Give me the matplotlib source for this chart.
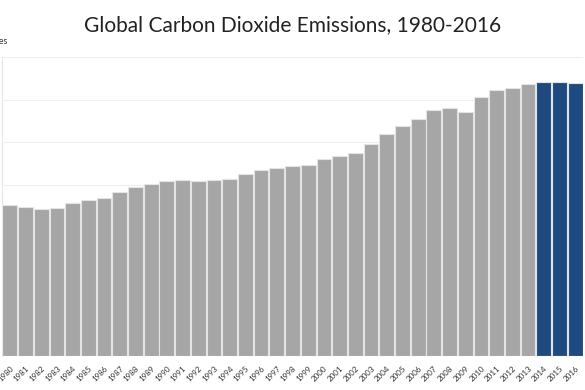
import matplotlib
matplotlib.use("Agg")
import matplotlib.pyplot as plt
import numpy as np

years = list(range(1980, 2017))
emissions = [17700, 17430, 17230, 17350, 17930, 18210, 18520, 19150, 19800, 20150,
             20430, 20550, 20500, 20620, 20740, 21290, 21750, 22020, 22190, 22340,
             23080, 23390, 23780, 24830, 25970, 26940, 27750, 28850, 29010, 28620,
             30260, 31150, 31350, 31890, 32130, 32050, 32010]
highlight_years = [2014, 2015, 2016]
title = "Global Carbon Dioxide Emissions, 1980-2016"
ylabel = "Million tonnes"
yticks = list(range(0, 35001, 5000))

gray = "#a6a6a6"
blue = "#1f4a80"
colors = [blue if y in highlight_years else gray for y in years]

fig = plt.figure(figsize=(5.85, 3.9), dpi=100)
ax = fig.add_axes([2/585, 1 - 356/390, 581/585, (356 - 57)/390])

x = np.arange(len(years))
ax.bar(x, emissions, width=0.94, color=colors, edgecolor="#e4e4e4", linewidth=0.8, zorder=2)
ax.set_xlim(-0.5, len(years) - 0.5)
ax.set_ylim(0, 35000)
ax.set_yticks(yticks)
ax.set_yticklabels([])
ax.tick_params(axis="y", length=0)
ax.yaxis.grid(True, color="#efefef", linewidth=0.8, zorder=0)
ax.set_axisbelow(True)
for s in ["top", "right", "bottom"]:
    ax.spines[s].set_visible(False)
ax.spines["left"].set_color("#e6e6e6")
ax.spines["left"].set_linewidth(0.8)

ax.set_xticks(x)
ax.set_xticklabels([str(y) for y in years], rotation=45, ha="right",
                   rotation_mode="anchor", fontsize=5.8, color="#333333",
                   family="Lato")
ax.tick_params(axis="x", length=0, pad=6)

fig.text(0.5, 1 - 25/390, title, ha="center", va="center", fontsize=15,
         color="#222222", family="Lato")
fig.text(7/585, 1 - 41/390, ylabel, ha="right", va="center", fontsize=6.5,
         color="#333333", family="Lato")

fig.savefig("out.png", dpi=100)
